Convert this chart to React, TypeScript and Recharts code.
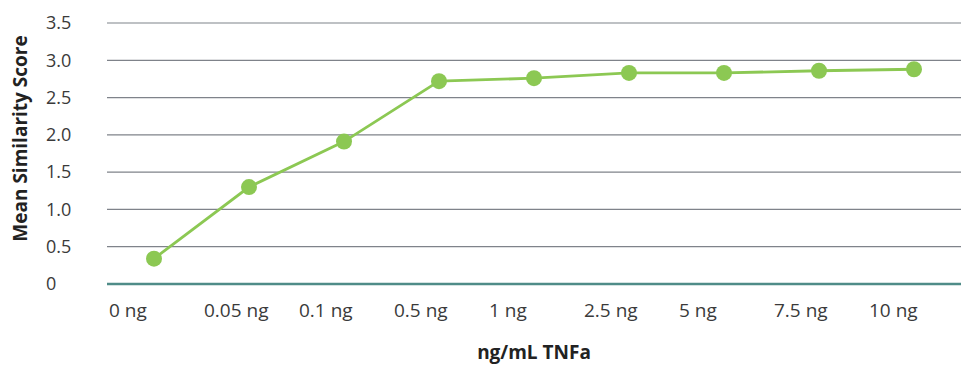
import React from 'react';
import { LineChart, Line, XAxis, YAxis, CartesianGrid, Label } from 'recharts';

const doses = ['0 ng', '0.05 ng', '0.1 ng', '0.5 ng', '1 ng', '2.5 ng', '5 ng', '7.5 ng', '10 ng'];
const scores = [0.34, 1.3, 1.91, 2.72, 2.76, 2.83, 2.83, 2.86, 2.88];
const yTicks = [0, 0.5, 1, 1.5, 2, 2.5, 3, 3.5];

const FONT = '"Open Sans", sans-serif';
const GREEN = '#8CC853';
const TEAL = '#4F8C88';

const chartData = doses.map((dose, i) => ({ dose, score: scores[i] }));

function XTick(props: any) {
  const { x, y, payload } = props;
  // labels sit left-aligned at the start of each category slot
  return (
    <text x={x - 45} y={y + 26} dy="0.35em" textAnchor="start" fontFamily={FONT} fontSize={19} fill="#3a3a3a">
      {payload.value}
    </text>
  );
}

function YTick(props: any) {
  const { x, y, payload } = props;
  const v = Number(payload.value);
  return (
    <text x={x - 61} y={y} dy="0.35em" textAnchor="start" fontFamily={FONT} fontSize={18} fill="#3a3a3a">
      {v === 0 ? '0' : v.toFixed(1)}
    </text>
  );
}

export default function App() {
  return (
    <div style={{ position: 'absolute', left: 0, top: 0, background: '#fff' }}>
      <LineChart width={961} height={365} data={chartData} margin={{ top: 23, right: 0, left: 0, bottom: 0 }}>
        <CartesianGrid vertical={false} stroke="#7f838a" strokeWidth={1.2} />
        <XAxis
          dataKey="dose"
          height={81}
          padding={{ left: 47, right: 47 }}
          tickSize={0}
          tickMargin={0}
          tickLine={false}
          axisLine={{ stroke: TEAL, strokeWidth: 2.5 }}
          tick={<XTick />}
          interval={0}
        >
          <Label
            value="ng/mL TNFa"
            position="insideBottom"
            offset={6}
            style={{ fontFamily: FONT, fontSize: 19, fontWeight: 700, fill: '#222' }}
          />
        </XAxis>
        <YAxis
          width={107}
          domain={[0, 3.5]}
          ticks={yTicks}
          tickSize={0}
          tickMargin={0}
          tickLine={false}
          axisLine={false}
          tick={<YTick />}
        >
          <Label
            content={({ viewBox }: any) => {
              const cx = viewBox.x + 27;
              const cy = viewBox.y + viewBox.height / 2 - 15;
              return (
                <text
                  x={cx}
                  y={cy}
                  transform={`rotate(-90, ${cx}, ${cy})`}
                  textAnchor="middle"
                  fontFamily={FONT}
                  fontSize={19}
                  fontWeight={700}
                  fill="#222"
                >
                  Mean Similarity Score
                </text>
              );
            }}
          />
        </YAxis>
        <Line
          type="linear"
          dataKey="score"
          stroke={GREEN}
          strokeWidth={2.8}
          dot={{ r: 8, fill: GREEN, stroke: 'none' }}
          activeDot={false}
          isAnimationActive={false}
        />
      </LineChart>
    </div>
  );
}
